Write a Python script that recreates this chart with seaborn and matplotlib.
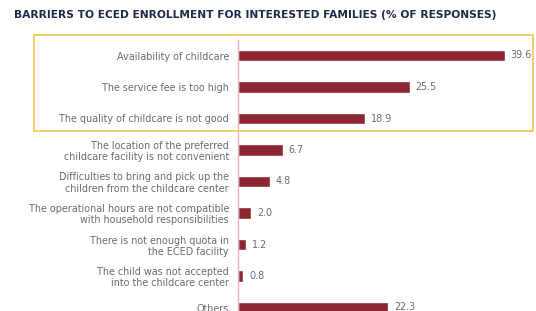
import matplotlib
matplotlib.use("Agg")
import matplotlib.pyplot as plt
import matplotlib.patches as mpatches
import seaborn as sns
import pandas as pd

categories = [
    "Availability of childcare",
    "The service fee is too high",
    "The quality of childcare is not good",
    "The location of the preferred\nchildcare facility is not convenient",
    "Difficulties to bring and pick up the\nchildren from the childcare center",
    "The operational hours are not compatible\nwith household responsibilities",
    "There is not enough quota in\nthe ECED facility",
    "The child was not accepted\ninto the childcare center",
    "Others",
]
values = [39.6, 25.5, 18.9, 6.7, 4.8, 2.0, 1.2, 0.8, 22.3]

title = "BARRIERS TO ECED ENROLLMENT FOR INTERESTED FAMILIES (% OF RESPONSES)"

bar_color = "#8C2633"
text_gray = "#6b6b6b"
navy = "#1d2b4a"

df = pd.DataFrame({"reason": categories, "pct": values})

sns.set_style("white")
plt.rcParams["font.family"] = ["DejaVu Sans"]

W, H = 536, 311
fig = plt.figure(figsize=(W / 100, H / 100), dpi=100)

# axes placed in pixel terms: first bar centre at 55.5 px, step 31.5 px
step = 31.5
top_px = 55.5 - step / 2
bot_px = top_px + step * len(categories)
left_px = 238
px_per_unit = 6.74
xmax = 40
ax = fig.add_axes([left_px / W, 1 - bot_px / H,
                   xmax * px_per_unit / W, (bot_px - top_px) / H])

sns.barplot(data=df, x="pct", y="reason", color=bar_color, saturation=1,
            width=0.35, ax=ax)

ax.set_xlim(0, xmax)
ax.set_ylim(len(categories) - 0.5, -0.5)
ax.set_xlabel("")
ax.set_ylabel("")
ax.set_xticks([])
ax.tick_params(axis="y", length=0, pad=6.5, labelsize=6.95, labelcolor=text_gray)
for lab in ax.get_yticklabels():
    lab.set_linespacing(1.15)

for s in ["top", "right", "bottom"]:
    ax.spines[s].set_visible(False)
ax.spines["left"].set_color("#e3b3ba")
ax.spines["left"].set_linewidth(1.0)

for i, v in enumerate(values):
    ax.annotate(f"{v:.1f}", xy=(v, i), xytext=(4, 0), textcoords="offset points",
                va="center", ha="left", fontsize=6.9, color=text_gray,
                annotation_clip=False)

# highlight box around the top three reasons
box = mpatches.Rectangle((34 / W, 1 - 131 / H), (533 - 34) / W, (131 - 35) / H,
                         transform=fig.transFigure, fill=False,
                         edgecolor="#f7cf5f", linewidth=1.4)
fig.patches.append(box)

fig.text(14 / W, 1 - 15 / H, title, ha="left", va="center",
         fontsize=7.7, fontweight="bold", color=navy)

fig.savefig("out.png", dpi=100)
